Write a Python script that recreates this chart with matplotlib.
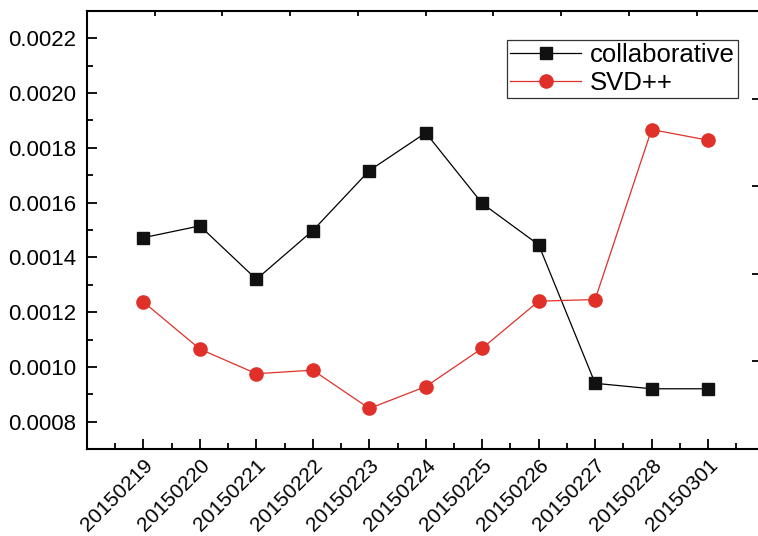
import matplotlib
matplotlib.use("Agg")
import matplotlib.pyplot as plt
from matplotlib.ticker import MultipleLocator, FixedLocator, NullFormatter

plt.rcParams['font.family'] = ['Liberation Sans', 'DejaVu Sans']

dates = ["20150219", "20150220", "20150221", "20150222", "20150223", "20150224",
         "20150225", "20150226", "20150227", "20150228", "20150301"]
collaborative = [0.001472, 0.001515, 0.001320, 0.001498, 0.001717, 0.001855,
                 0.001597, 0.001446, 0.000940, 0.000920, 0.000920]
svdpp = [0.001237, 0.001065, 0.000975, 0.000988, 0.000848, 0.000928,
         0.001068, 0.001240, 0.001246, 0.001867, 0.001828]

W, H = 758, 536
fig = plt.figure(figsize=(W / 100, H / 100), dpi=100)
L, R, T, B = 87, 764.5, 11, 449
ax = fig.add_axes([L / W, 1 - B / H, (R - L) / W, (B - T) / H])

x = list(range(len(dates)))
ax.plot(x, collaborative, color='black', lw=0.9, marker='s', ms=8.5,
        markerfacecolor='#111111', markeredgecolor='#111111', label='collaborative')
ax.plot(x, svdpp, color='#e0302a', lw=0.9, marker='o', ms=9.5,
        markerfacecolor='#e0302a', markeredgecolor='#e0302a', label='SVD++')

ax.set_xlim(-1, 11)
ax.set_ylim(0.0007, 0.0023)
ax.set_xticks(x)
ax.set_xticklabels(dates, rotation=45, ha='right', va='top', rotation_mode='anchor')
ax.xaxis.set_minor_locator(FixedLocator([i - 0.5 for i in range(12)]))
ax.yaxis.set_major_locator(MultipleLocator(0.0002))
ax.yaxis.set_minor_locator(MultipleLocator(0.0001))
ax.yaxis.set_major_formatter(plt.FuncFormatter(lambda v, p: f"{v:.4f}"))

ax.tick_params(axis='both', which='major', direction='in', length=7.5, width=1.3,
               labelsize=16, pad=8)
ax.tick_params(axis='both', which='minor', direction='in', length=4.3, width=1.3)
ax.tick_params(axis='x', which='major', pad=5, labelsize=15)
for s in ax.spines.values():
    s.set_linewidth(1.5)

# secondary axes for ticks on top and right
axr = ax.twinx()
axr.set_ylim(0, 5)
axr.yaxis.set_major_locator(FixedLocator([1, 2, 3, 4]))
axr.yaxis.set_major_formatter(NullFormatter())
axr.tick_params(axis='y', direction='in', length=9, width=1.3)
axt = ax.twiny()
axt.set_xlim(0, 10)
axt.xaxis.set_major_locator(FixedLocator(list(range(1, 10))))
axt.xaxis.set_major_formatter(NullFormatter())
axt.tick_params(axis='x', direction='in', length=3.5, width=1.3)
for a in (axr, axt):
    for s in a.spines.values():
        s.set_visible(False)

leg = ax.legend(loc='upper right', bbox_to_anchor=(738 / W, 1 - 40 / H),
                bbox_transform=fig.transFigure, borderaxespad=0, fancybox=False,
                edgecolor='#333333', fontsize=18.5, handlelength=2.75,
                handletextpad=0.35, labelspacing=0.15, borderpad=0.12, framealpha=1)
leg.get_frame().set_linewidth(0.9)
leg.set_zorder(10)

fig.savefig("out.png", dpi=100)
